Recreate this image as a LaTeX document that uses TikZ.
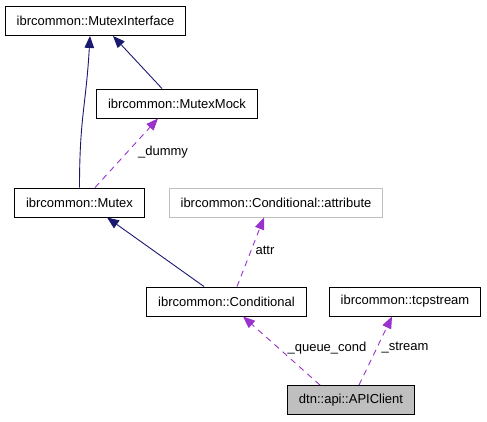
\documentclass[tikz,border=0pt]{standalone}
\usepackage{fontspec}
\setmainfont{Liberation Sans}
\usetikzlibrary{arrows.meta}
\definecolor{navyedge}{HTML}{191970}
\definecolor{orchid}{HTML}{9A32CD}
\definecolor{boxgray}{HTML}{BFBFBF}
\begin{document}
\begin{tikzpicture}[x=1pt, y=1pt,
    font=\fontsize{13}{15}\selectfont,
    cls/.style={draw=black, line width=0.9pt, inner xsep=11.5pt, minimum height=29pt, inner ysep=0pt},
    inherit/.style={draw=navyedge, line width=0.9pt, -{Triangle[length=12pt,width=9.5pt]}},
    usage/.style={draw=orchid, line width=0.9pt, dash pattern=on 6pt off 5pt, -{Triangle[length=12pt,width=9.5pt]}},
    elabel/.style={inner sep=1pt}]
            \useasboundingbox (0, 0) rectangle (487, 421);
            \node[cls] (mutexif) at (95.5, 400) {ibrcommon::MutexInterface};
            \node[cls] (mutexmock) at (177, 317.5) {ibrcommon::MutexMock};
            \node[cls] (mutex) at (79.5, 218.5) {ibrcommon::Mutex};
            \node[cls, draw=boxgray] (attribute) at (276, 218.5) {ibrcommon::Conditional::attribute};
            \node[cls] (conditional) at (226.5, 119.5) {ibrcommon::Conditional};
            \node[cls] (tcpstream) at (405, 119.5) {ibrcommon::tcpstream};
            \node[cls, fill=boxgray] (apiclient) at (351, 21) {dtn::api::APIClient};
            %inheritance
            \draw[inherit] (mutex.north) .. controls +(0, 70) and +(-4, -70) .. ([xshift=-5.5pt]mutexif.south);
            \draw[inherit] ([xshift=-15pt]mutexmock.north) -- ([xshift=17.5pt]mutexif.south);
            \draw[inherit] ([xshift=-22.5pt]conditional.north) -- ([xshift=27.5pt]mutex.south);
            %members
            \draw[usage] ([xshift=15.5pt]mutex.north) -- ([xshift=-19pt]mutexmock.south);
            \draw[usage] ([xshift=10.5pt]conditional.north) -- ([xshift=-12pt]attribute.south);
            \draw[usage] ([xshift=-31pt]apiclient.north) -- ([xshift=16.5pt]conditional.south);
            \draw[usage] ([xshift=8pt]apiclient.north) -- ([xshift=-13pt]tcpstream.south);
            \node[elabel] (dummy) at (163, 269) {\_dummy};
            \node[elabel] (attr) at (265, 171) {attr};
            \node[elabel] (queuecond) at (327, 73) {\_queue\_cond};
            \node[elabel] (stream) at (405, 73) {\_stream};
\end{tikzpicture}
\end{document}
